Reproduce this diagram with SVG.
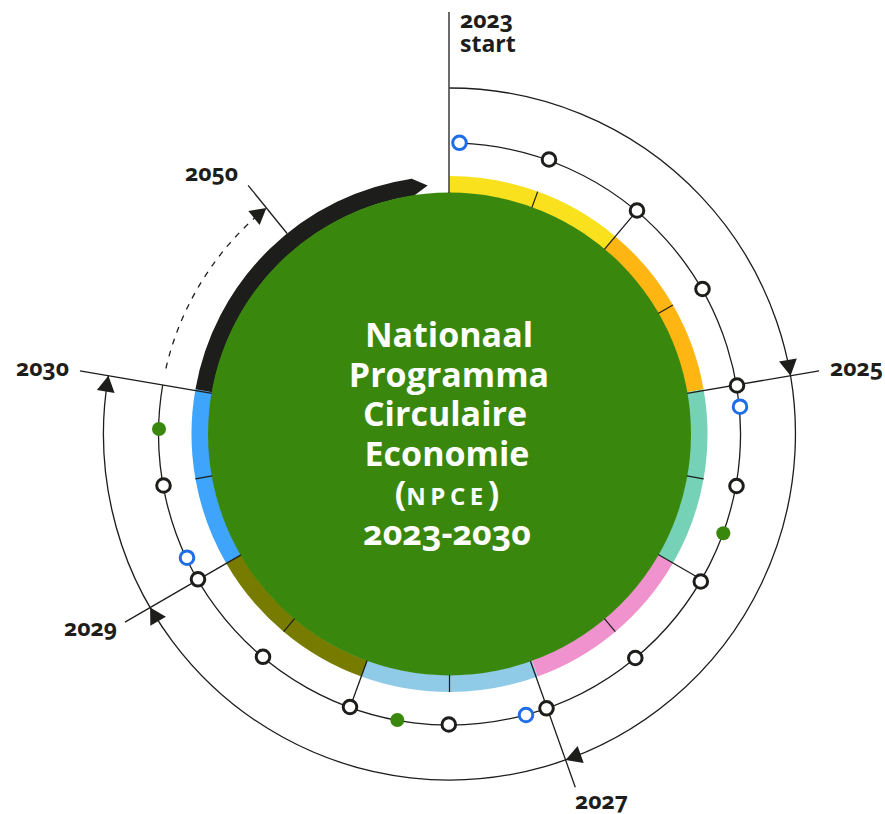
<svg xmlns="http://www.w3.org/2000/svg" xmlns:xlink="http://www.w3.org/1999/xlink" width="885" height="814" viewBox="0 0 885 814">
<style>
.seg{fill:none;stroke-width:17;stroke-linecap:butt}
.ln{fill:none;stroke:#1d1d1b;stroke-width:1.3}
.tk{fill:none;stroke:#1d1d1b;stroke-width:1.2}
.dk{fill:#fff;stroke:#1d1d1b;stroke-width:3}
.bl{fill:#fff;stroke:#1f6ee8;stroke-width:3}
.gr{fill:#39870c}
.ah{fill:#1d1d1b}
.yr{font-family:"Open Sans","Noto Sans","Liberation Sans",sans-serif;font-weight:700;font-size:23px;fill:#1d1d1b;font-variant-numeric:oldstyle-nums}
.tt{font-family:"Open Sans","Noto Sans","Liberation Sans",sans-serif;font-weight:700;font-size:34px;fill:#fff;text-anchor:middle;font-variant-numeric:oldstyle-nums}
</style>
<defs>
<path id="ah" d="M0 0 L-16 -9 L-16 9 Z"/>
</defs>
<rect width="885" height="814" fill="#fff"/>
<g id="ring">
<path class="seg" stroke="#f9e11e" d="M449.5 184.5 A249.5 249.5 0 0 1 609.9 242.9"/>
<path class="seg" stroke="#ffb612" d="M609.9 242.9 A249.5 249.5 0 0 1 695.2 390.7"/>
<path class="seg" stroke="#76d2b6" d="M695.2 390.7 A249.5 249.5 0 0 1 665.6 558.75"/>
<path class="seg" stroke="#f092cd" d="M665.6 558.75 A249.5 249.5 0 0 1 534.8 668.5"/>
<path class="seg" stroke="#8fcae7" d="M534.8 668.5 A249.5 249.5 0 0 1 364.2 668.5"/>
<path class="seg" stroke="#777c00" d="M364.2 668.5 A249.5 249.5 0 0 1 233.4 558.75"/>
<path class="seg" stroke="#3ea4fc" d="M233.4 558.75 A249.5 249.5 0 0 1 203.8 390.7"/>
<path class="seg" stroke="#1d1d1b" d="M203.8 390.7 A249.5 249.5 0 0 1 413.0 187.2"/>
<polygon fill="#1d1d1b" points="409.1,179.2 411.8,178.8 427.7,185.4 414.3,195.6 411.8,196.0"/>
</g>
<g id="center">
<circle cx="449.5" cy="434" r="241.5" fill="#39870c"/>
<text class="tt" x="449" y="347">Nationaal</text>
<text class="tt" x="449" y="386.5">Programma</text>
<text class="tt" x="445" y="426">Circulaire</text>
<text class="tt" x="447" y="465.5">Economie</text>
<text class="tt" x="447" y="505">(<tspan font-size="24" letter-spacing="4.5">NPCE</tspan>)</text>
<text class="tt" x="447" y="544.5">2023-2030</text>
</g>
<g id="connectors">
<line class="tk" x1="531.9" y1="207.5" x2="537.7" y2="191.6"/>
<line class="tk" x1="658.2" y1="313.5" x2="672.9" y2="305"/>
<line class="tk" x1="686.8" y1="475.8" x2="703.6" y2="478.8"/>
<line class="tk" x1="604.4" y1="618.6" x2="615.3" y2="631.6"/>
<line class="tk" x1="449.5" y1="675" x2="449.5" y2="692"/>
<line class="tk" x1="294.6" y1="618.6" x2="283.7" y2="631.6"/>
<line class="tk" x1="212.2" y1="475.8" x2="195.4" y2="478.8"/>
<line class="ln" x1="604.4" y1="249.4" x2="636.6" y2="211.1"/>
<line class="ln" x1="658.2" y1="554.5" x2="701.5" y2="579.5"/>
<line class="ln" x1="367.1" y1="660.5" x2="350" y2="707.5"/>
<line class="ln" x1="449" y1="12" x2="449" y2="193"/>
<line class="ln" x1="687.1" y1="393.4" x2="819.1" y2="370.8"/>
<line class="ln" x1="530.4" y1="661" x2="575.3" y2="787.3"/>
<line class="ln" x1="241" y1="554.9" x2="125" y2="622.1"/>
<line class="ln" x1="211.9" y1="393.4" x2="79.9" y2="370.8"/>
<line class="ln" x1="287.1" y1="233.5" x2="248.1" y2="185.3"/>
<path class="ln" d="M449.5 88 A346 346 0 1 1 108.4 375.7"/>
<path class="ln" d="M459.7 143.2 A291 291 0 1 1 162.7 385"/>
<path class="ln" stroke-dasharray="6 6.5" d="M165.9 368.5 A291 291 0 0 1 254.8 217.8"/>
<use xlink:href="#ah" class="ah" transform="translate(790.6 375.7) rotate(80.3)"/>
<use xlink:href="#ah" class="ah" transform="translate(565.6 759.9) rotate(160.4)"/>
<use xlink:href="#ah" class="ah" transform="translate(150.1 607.5) rotate(239.9)"/>
<use xlink:href="#ah" class="ah" transform="translate(108.4 375.7) rotate(279.6)"/>
<use xlink:href="#ah" class="ah" transform="translate(266.4 207.9) rotate(321)"/>
</g>
<g id="milestones">
<circle class="dk" cx="549" cy="159.5" r="6.8"/>
<circle class="dk" cx="637" cy="210.5" r="6.8"/>
<circle class="dk" cx="702.5" cy="289" r="6.8"/>
<circle class="dk" cx="737" cy="385.5" r="6.8"/>
<circle class="dk" cx="736.5" cy="486" r="6.8"/>
<circle class="dk" cx="700.8" cy="581.5" r="6.8"/>
<circle class="dk" cx="635.3" cy="658" r="6.8"/>
<circle class="dk" cx="546.5" cy="708.3" r="6.8"/>
<circle class="dk" cx="448.8" cy="724.5" r="6.8"/>
<circle class="dk" cx="350" cy="707" r="6.8"/>
<circle class="dk" cx="263" cy="656.8" r="6.8"/>
<circle class="dk" cx="198" cy="579.3" r="6.8"/>
<circle class="dk" cx="163.5" cy="485.5" r="6.8"/>
<circle class="bl" cx="459.5" cy="142.8" r="6.8"/>
<circle class="bl" cx="740" cy="406.7" r="6.8"/>
<circle class="bl" cx="526" cy="715" r="6.8"/>
<circle class="bl" cx="187" cy="557.7" r="6.8"/>
<circle class="gr" cx="723.3" cy="533.3" r="7"/>
<circle class="gr" cx="397.3" cy="720" r="7"/>
<circle class="gr" cx="159" cy="429" r="7"/>
</g>
<g id="labels">
<text class="yr" x="460" y="27.5">2023</text>
<text class="yr" x="460" y="51.5">start</text>
<text class="yr" x="185" y="180.5">2050</text>
<text class="yr" x="16" y="376">2030</text>
<text class="yr" x="830" y="376">2025</text>
<text class="yr" x="575" y="808.5">2027</text>
<text class="yr" x="64" y="636">2029</text>
</g>
</svg>
